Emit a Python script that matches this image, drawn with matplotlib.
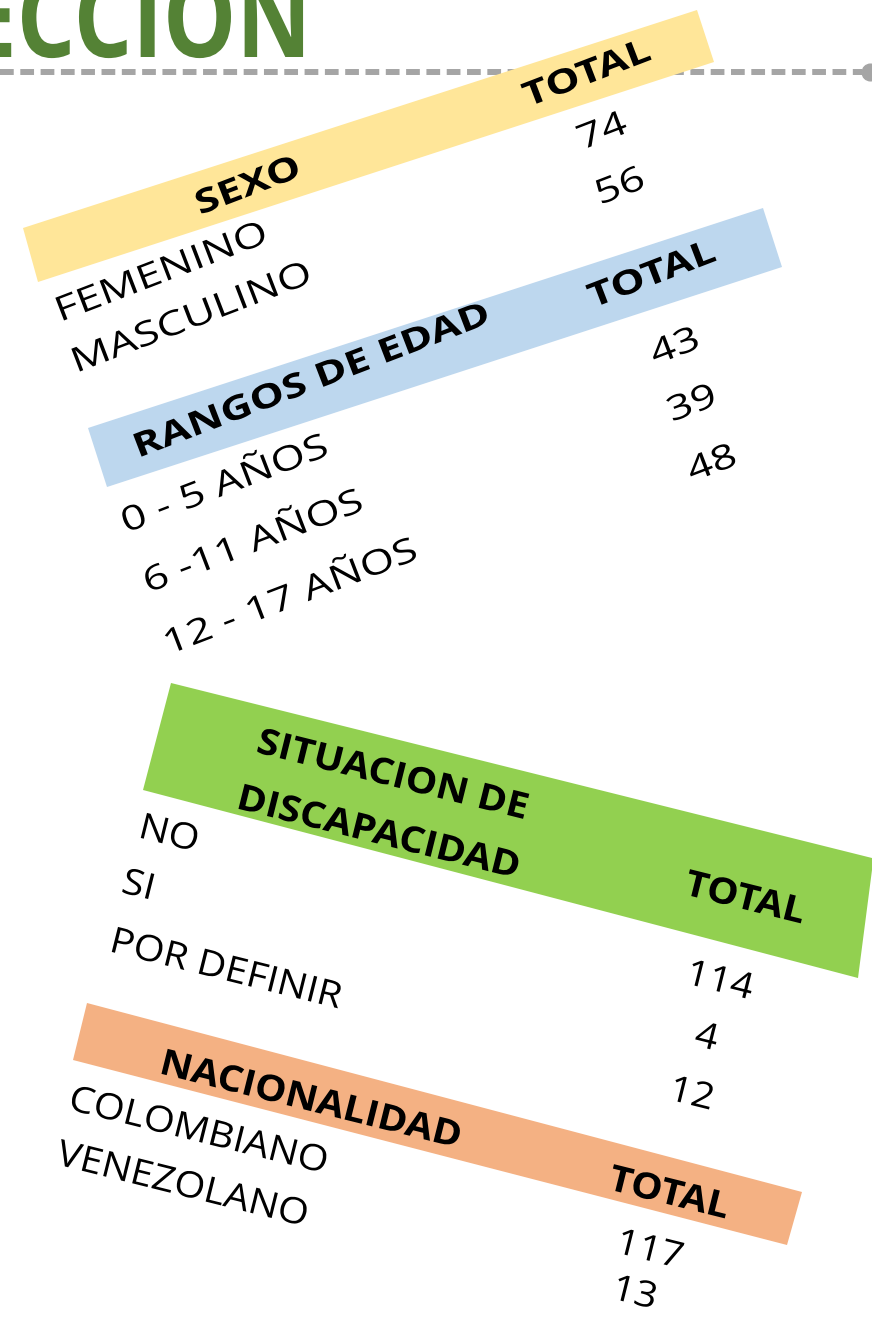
import matplotlib.pyplot as plt
import matplotlib.patheffects as pe
from matplotlib.patches import Polygon
from matplotlib.transforms import Affine2D

# data
sexo_cats = ['FEMENINO', 'MASCULINO']
sexo_vals = [74, 56]
edad_cats = ['0 - 5 AÑOS', '6 -11 AÑOS', '12 - 17 AÑOS']
edad_vals = [43, 39, 48]
disc_cats = ['NO', 'SI', 'POR DEFINIR']
disc_vals = [114, 4, 12]
nac_cats = ['COLOMBIANO', 'VENEZOLANO']
nac_vals = [117, 13]


class Stretch(pe.AbstractPathEffect):
    # widen glyphs along the baseline, the source sheet was scaled that way
    def __init__(self, sx):
        super().__init__()
        self.sx = sx

    def draw_path(self, renderer, gc, tpath, affine, rgbFace=None):
        renderer.draw_path(gc, tpath, Affine2D().scale(self.sx, 1) + affine, rgbFace)


FONT = 'Open Sans'

fig = plt.figure(figsize=(8.72, 13.19), dpi=100)
ax = fig.add_axes([0, 0, 1, 1])
ax.set_xlim(0, 872)
ax.set_ylim(1319, 0)
ax.axis('off')


def put(x, y, s, rot, size, bold=False, sx=1.3, color='black', z=5):
    ax.text(x, y, s, rotation=rot, rotation_mode='anchor', ha='left', va='baseline',
            fontsize=size, family=FONT, weight='bold' if bold else 'normal',
            color=color, zorder=z, path_effects=[Stretch(sx)])


def band(pts, color):
    ax.add_patch(Polygon(pts, closed=True, fc=color, ec='none', zorder=2))


#-----------------------------------------------------------------------------#
# title and dashed rule

put(-35, 57, 'ECCION', 0, 81, bold=True, sx=0.82, color='#548235')
ax.plot([0, 862], [72, 72], color='#a5a5a5', lw=4.3, ls=(0, (2.3, 1.1)),
        solid_capstyle='butt', zorder=1)
ax.plot([870], [72], 'o', color='#a5a5a5', ms=12, zorder=1)

#-----------------------------------------------------------------------------#
# upper tables: SEXO, RANGOS DE EDAD

top_rot = 21
top_reg, top_head, top_sx = 24.5, 24, 1.3

band([(23, 228), (697, 10), (714, 62), (38, 282)], '#ffe699')
put(200, 215, 'SEXO', top_rot, top_head, bold=True, sx=top_sx)
put(528, 107, 'TOTAL', top_rot, top_head, bold=True, sx=top_sx)
sexo_lab_xy = [(60, 322), (76, 373)]
sexo_val_xy = [(582, 150), (600, 205)]
for (x, y), s in zip(sexo_lab_xy, sexo_cats):
    put(x, y, s, top_rot, top_reg, sx=top_sx)
for (x, y), v in zip(sexo_val_xy, sexo_vals):
    put(x, y, str(v), top_rot, top_reg, sx=top_sx)

band([(88, 428), (763, 208), (782, 267), (107, 487)], '#bdd7ee')
put(138, 458, 'RANGOS DE EDAD', top_rot, top_head, bold=True, sx=top_sx)
put(593, 308, 'TOTAL', top_rot, top_head, bold=True, sx=top_sx)
edad_lab_xy = [(126, 533), (148, 593), (168, 655)]
edad_val_xy = [(655, 365), (672, 422), (692, 482)]
for (x, y), s in zip(edad_lab_xy, edad_cats):
    put(x, y, s, top_rot, top_reg, sx=top_sx)
for (x, y), v in zip(edad_val_xy, edad_vals):
    put(x, y, str(v), top_rot, top_reg, sx=top_sx)

#-----------------------------------------------------------------------------#
# lower tables: SITUACION DE DISCAPACIDAD, NACIONALIDAD

low_rot = -14
low_reg, low_head, low_sx = 26, 26, 1.1

band([(171, 683), (872, 858), (872, 870), (858, 978), (143, 790)], '#92d050')
put(255, 752, 'SITUACION DE', low_rot, low_head, bold=True, sx=low_sx)
put(235, 808, 'DISCAPACIDAD', low_rot, low_head, bold=True, sx=low_sx)
put(683, 894, 'TOTAL', low_rot, low_head, bold=True, sx=low_sx)
disc_lab_xy = [(137, 837), (120, 892), (108, 951)]
disc_val_xy = [(684, 983), (693, 1045), (667, 1099)]
for (x, y), s in zip(disc_lab_xy, disc_cats):
    put(x, y, s, low_rot, low_reg, sx=low_sx)
for (x, y), v in zip(disc_val_xy, disc_vals):
    put(x, y, str(v), low_rot, low_reg, sx=low_sx)

band([(87, 1003), (802, 1192), (787, 1245), (73, 1060)], '#f4b183')
put(158, 1073, 'NACIONALIDAD', low_rot, low_head, bold=True, sx=low_sx)
put(607, 1189, 'TOTAL', low_rot, low_head, bold=True, sx=low_sx)
nac_lab_xy = [(67, 1109), (55, 1164)]
nac_val_xy = [(614, 1252), (610, 1298)]
for (x, y), s in zip(nac_lab_xy, nac_cats):
    put(x, y, s, low_rot, low_reg, sx=low_sx)
for (x, y), v in zip(nac_val_xy, nac_vals):
    put(x, y, str(v), low_rot, low_reg, sx=low_sx)

fig.savefig('out.png', dpi=100)
